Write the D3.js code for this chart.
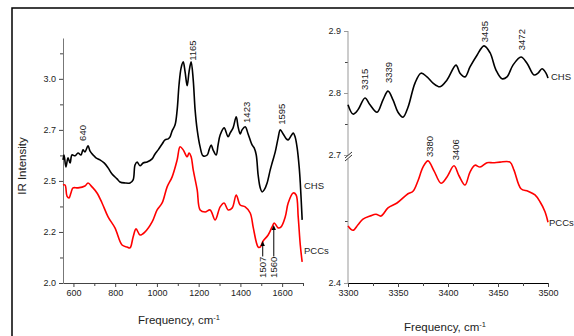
<!DOCTYPE html>
<html>
<head>
<meta charset="utf-8">
<script src="https://cdn.jsdelivr.net/npm/d3@7"></script>
<style>
  html, body { margin: 0; padding: 0; background: #fff; }
  svg { display: block; font-family: "Liberation Sans", Arial, sans-serif; }
</style>
</head>
<body>
<svg id="chart" width="574" height="336"></svg>
<script>
// ---- Fingerprint region (550–1700 cm-1) ----
const chsLowFreq = [550,555,564,574,584,593,608,622,636,646,655,670,679,694,708,727,747,766,785,809,823,847,871,886,895,905,919,934,953,977,991,1006,1025,1039,1054,1063,1073,1087,1097,1106,1116,1126,1135,1145,1154,1164,1174,1183,1193,1207,1221,1241,1250,1260,1269,1284,1293,1303,1322,1341,1351,1365,1380,1389,1399,1408,1423,1437,1456,1466,1476,1485,1495,1504,1514,1528,1543,1552,1567,1581,1591,1605,1620,1629,1643,1653,1662,1672,1682,1687,1696];
const chsLowIntensity = [2.603,2.627,2.569,2.613,2.588,2.627,2.623,2.637,2.627,2.652,2.642,2.672,2.647,2.627,2.613,2.603,2.588,2.564,2.534,2.510,2.495,2.490,2.490,2.505,2.578,2.593,2.574,2.588,2.593,2.608,2.632,2.652,2.681,2.701,2.706,2.716,2.745,2.775,2.848,2.971,3.054,3.083,3.034,2.966,3.034,3.083,2.995,2.848,2.750,2.667,2.623,2.627,2.652,2.676,2.652,2.627,2.676,2.725,2.760,2.716,2.735,2.760,2.814,2.765,2.730,2.750,2.765,2.730,2.676,2.662,2.627,2.529,2.466,2.446,2.456,2.490,2.554,2.588,2.642,2.711,2.750,2.730,2.706,2.701,2.721,2.735,2.716,2.662,2.564,2.490,2.309];

const pccsLowFreq = [550,560,569,579,588,598,622,655,670,689,713,737,766,799,833,857,871,886,900,919,943,977,1001,1025,1049,1073,1097,1111,1126,1145,1154,1164,1174,1193,1207,1231,1255,1279,1303,1322,1341,1361,1380,1399,1423,1447,1461,1476,1485,1495,1509,1533,1552,1562,1581,1595,1615,1629,1653,1667,1677,1687,1696];
const pccsLowIntensity = [2.480,2.480,2.426,2.417,2.441,2.466,2.466,2.475,2.490,2.471,2.441,2.392,2.324,2.270,2.186,2.176,2.172,2.225,2.265,2.235,2.250,2.299,2.358,2.392,2.471,2.520,2.603,2.667,2.652,2.618,2.637,2.618,2.554,2.456,2.358,2.348,2.358,2.309,2.373,2.392,2.358,2.368,2.431,2.382,2.373,2.343,2.275,2.201,2.176,2.176,2.206,2.235,2.275,2.294,2.270,2.275,2.324,2.392,2.441,2.431,2.324,2.186,2.103];

// ---- O–H / N–H stretching region (3300–3500 cm-1) ----
const chsHighFreq = [3300,3305,3310,3317,3322,3329,3335,3340,3345,3350,3355,3360,3367,3373,3379,3385,3392,3399,3408,3412,3417,3422,3429,3436,3442,3448,3454,3459,3465,3473,3479,3486,3490,3494,3498,3500];
const chsHighIntensity = [2.781,2.766,2.773,2.792,2.781,2.769,2.789,2.803,2.789,2.769,2.761,2.777,2.816,2.832,2.826,2.816,2.810,2.821,2.845,2.832,2.826,2.842,2.861,2.876,2.865,2.837,2.823,2.826,2.845,2.858,2.848,2.829,2.832,2.839,2.832,2.824];

const pccsHighFreq = [3300,3305,3310,3315,3322,3328,3333,3340,3349,3360,3365,3370,3375,3380,3386,3393,3399,3406,3411,3417,3422,3427,3432,3439,3445,3452,3462,3466,3473,3480,3487,3492,3497,3500];
const pccsHighIntensity = [2.492,2.485,2.494,2.503,2.508,2.511,2.508,2.521,2.529,2.544,2.548,2.565,2.587,2.597,2.581,2.561,2.571,2.589,2.573,2.558,2.579,2.590,2.587,2.594,2.594,2.595,2.595,2.582,2.552,2.548,2.542,2.531,2.515,2.498];

// Tick values and labels
const lowXTicks = [600, 800, 1000, 1200, 1400, 1600];
const lowXMinor = [700, 900, 1100, 1300, 1500, 1700];
const lowYTicks = [2.0, 2.25, 2.5, 2.75, 3.0];
const lowYLabels = ["2.0", "2.2", "2.5", "2.7", "3.0"];
const lowYMinor = [2.125, 2.375, 2.625, 2.875, 3.125];
const highXTicks = [3300, 3350, 3400, 3450, 3500];
const highXMinor = [3325, 3375, 3425, 3475];
const highYTicks = [2.4, 2.7, 2.8, 2.9];
const highYLabels = ["2.4", "2.7", "2.8", "2.9"];
const highYMinor = [2.5, 2.75, 2.85];

// Peak annotations: [text, frequency, intensity at the label's lower end]
const lowPeakLabels = [["640", 640, 2.696], ["1165", 1165, 3.088], ["1423", 1423, 2.784], ["1595", 1595, 2.775]];
const highPeakLabels = [["3315", 3315, 2.805], ["3339", 3339, 2.816], ["3435", 3435, 2.882], ["3472", 3472, 2.869], ["3380", 3380, 2.65], ["3406", 3406, 2.598]];
// Arrowed shoulders on the PCCs trace: [text, frequency, tip intensity]
const shoulderArrows = [["1507", 1507, 2.206], ["1560", 1560, 2.284]];

const svg = d3.select("#chart");
const font = "Liberation Sans, Arial, sans-serif";
const intFmt = d3.format("d");

// Outer frame
svg.append("path").attr("d", "M12,336V8H574").attr("fill", "none").attr("stroke", "#000").attr("stroke-width", 1.5);

// ---------- Left panel ----------
const xL = d3.scaleLinear().domain([550, 1700]).range([63, 303]);
const yL = d3.scaleLinear().domain([2.0, 3.2]).range([283, 38]);

const gL = svg.append("g");
const axL = gL.append("g").attr("transform", "translate(0,283)")
  .call(d3.axisBottom(xL).tickValues(lowXTicks).tickSize(4).tickSizeOuter(0).tickFormat(intFmt));
gL.append("g").attr("transform", "translate(0,283)")
  .call(d3.axisBottom(xL).tickValues(lowXMinor).tickSize(3).tickFormat("").tickSizeOuter(0))
  .select(".domain").remove();
const ayL = gL.append("g").attr("transform", "translate(63,0)")
  .call(d3.axisLeft(yL).tickValues(lowYTicks).tickSize(4).tickSizeOuter(0)
    .tickFormat((d, i) => lowYLabels[i]));
gL.append("g").attr("transform", "translate(63,0)")
  .call(d3.axisLeft(yL).tickValues(lowYMinor).tickSize(3).tickFormat("").tickSizeOuter(0))
  .select(".domain").remove();

// ---------- Right panel (broken y axis) ----------
const xR = d3.scaleLinear().domain([3300, 3500]).range([348, 548]);
const yR = d3.scaleLinear().domain([2.4, 2.6, 2.7, 2.9]).range([283, 159, 155, 31]);

const gR = svg.append("g");
gR.append("g").attr("transform", "translate(0,283)")
  .call(d3.axisBottom(xR).tickValues(highXTicks).tickSize(4).tickSizeOuter(0).tickFormat(intFmt));
gR.append("g").attr("transform", "translate(0,283)")
  .call(d3.axisBottom(xR).tickValues(highXMinor).tickSize(3).tickFormat(""))
  .select(".domain").remove();
const ayR = gR.append("g").attr("transform", "translate(348,0)")
  .call(d3.axisLeft(yR).tickValues(highYTicks).tickSize(4).tickSizeOuter(0)
    .tickFormat((d, i) => highYLabels[i]));
ayR.select(".domain").remove();
gR.append("g").attr("transform", "translate(348,0)")
  .call(d3.axisLeft(yR).tickValues(highYMinor).tickSize(3).tickFormat(""))
  .select(".domain").remove();
// axis line in two pieces with break marks
gR.append("line").attr("x1", 348).attr("x2", 348).attr("y1", yR(2.4)).attr("y2", yR(2.6)).attr("stroke", "#999");
gR.append("line").attr("x1", 348).attr("x2", 348).attr("y1", yR(2.7)).attr("y2", yR(2.9)).attr("stroke", "#999");
[0, 3].forEach(off => {
  gR.append("line")
    .attr("x1", 345).attr("y1", yR(2.7) + 3 + off)
    .attr("x2", 352).attr("y2", yR(2.7) - 3 + off)
    .attr("stroke", "#333").attr("stroke-width", 1);
});

// Axis styling
svg.selectAll(".tick text").attr("font-size", 9).attr("font-family", font).attr("fill", "#222");
axL.select(".domain").attr("stroke", "#444");
ayL.select(".domain").attr("stroke", "#777");
svg.selectAll(".tick line").attr("stroke", "#444");
ayR.selectAll(".tick line").attr("stroke", "#999");
svg.selectAll(".domain").attr("stroke-width", 1);

// ---------- Traces ----------
function trace(xs, ys, freq, vals, color) {
  const pts = freq.map((f, i) => [f, vals[i]]);
  svg.append("path")
    .datum(pts)
    .attr("fill", "none")
    .attr("stroke", color)
    .attr("stroke-width", 1.6)
    .attr("stroke-linejoin", "round")
    .attr("d", d3.line().x(d => xs(d[0])).y(d => ys(d[1])).curve(d3.curveCatmullRom.alpha(0.5)));
}
trace(xL, yL, chsLowFreq, chsLowIntensity, "#000");
trace(xL, yL, pccsLowFreq, pccsLowIntensity, "#ff0000");
trace(xR, yR, chsHighFreq, chsHighIntensity, "#000");
trace(xR, yR, pccsHighFreq, pccsHighIntensity, "#ff0000");

// ---------- Peak labels (rotated) ----------
function vlabel(x, y, text) {
  svg.append("text")
    .attr("transform", `translate(${x},${y}) rotate(-90)`)
    .attr("dy", "0.35em")
    .attr("font-size", 9.5).attr("font-family", font).attr("fill", "#222")
    .text(text);
}
lowPeakLabels.forEach(d => vlabel(xL(d[1]) + 1, yL(d[2]), d[0]));
highPeakLabels.forEach(d => vlabel(xR(d[1]) + 2, yR(d[2]), d[0]));

// Shoulder arrows with labels beneath
shoulderArrows.forEach(d => {
  const x = xL(d[1]);
  const tip = yL(d[2]);
  const tail = yL(2.13);
  svg.append("line").attr("x1", x).attr("x2", x).attr("y1", tail).attr("y2", tip + 4)
    .attr("stroke", "#000").attr("stroke-width", 1);
  svg.append("path").attr("d", `M${x},${tip}L${x - 2.2},${tip + 5}L${x + 2.2},${tip + 5}Z`).attr("fill", "#000");
  vlabel(x, yL(2.025), d[0]);
});

// Series names at trace ends
function seriesLabel(x, y, text) {
  svg.append("text").attr("x", x).attr("y", y).attr("dy", "0.35em")
    .attr("font-size", 9.5).attr("font-family", font).attr("fill", "#222").text(text);
}
seriesLabel(xL(1700) + 1, yL(2.475), "CHS");
seriesLabel(xL(1700) + 1, yL(2.157), "PCCs");
seriesLabel(xR(3500) + 3, yR(2.827), "CHS");
seriesLabel(xR(3500) + 1, yR(2.497), "PCCs");

// ---------- Axis titles ----------
function freqTitle(cx, y) {
  const t = svg.append("text").attr("x", cx).attr("y", y).attr("text-anchor", "middle")
    .attr("font-size", 11.5).attr("font-family", font).attr("fill", "#222");
  t.append("tspan").text("Frequency, cm");
  t.append("tspan").attr("dy", -4).attr("font-size", 7.5).text("-1");
}
freqTitle(179, 324);
freqTitle(445, 331);

svg.append("text")
  .attr("transform", "translate(22,166) rotate(-90)")
  .attr("text-anchor", "middle").attr("dy", "0.35em")
  .attr("font-size", 11.5).attr("font-family", font).attr("fill", "#222")
  .text("IR Intensity");
</script>
</body>
</html>
